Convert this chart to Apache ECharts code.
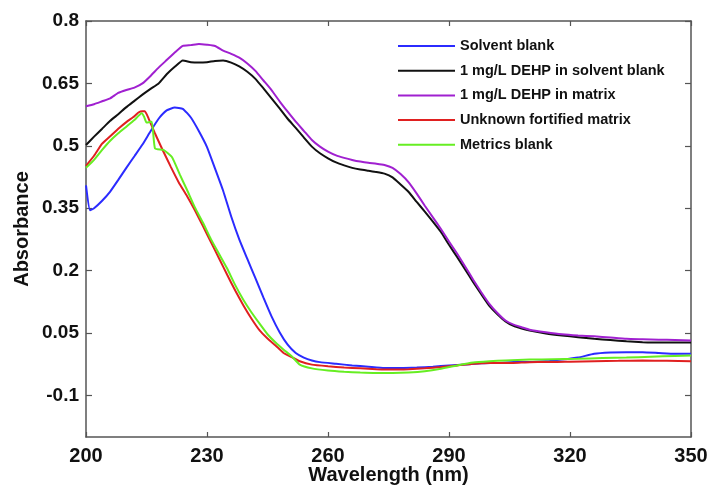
<!DOCTYPE html>
<html>
<head>
<meta charset="utf-8">
<script src="https://cdn.jsdelivr.net/npm/echarts@6/dist/echarts.min.js"></script>
<style>
  html, body { margin: 0; padding: 0; background: #fff; }
  #chart { width: 711px; height: 490px; }
</style>
</head>
<body>
<div id="chart"></div>
<script>
// UV absorbance spectra, [wavelength (nm), absorbance]
const solventBlank = [
  [200,0.405],[201,0.345],[202,0.350],[204,0.368],[206,0.390],[208,0.418],[210,0.447],[212,0.475],
  [214,0.503],[216,0.535],[218,0.565],[220,0.585],[222,0.592],[224,0.589],[226,0.568],[228,0.535],
  [230,0.497],[232,0.445],[234,0.392],[236,0.330],[238,0.275],[240,0.228],[242,0.182],[244,0.135],
  [246,0.090],[248,0.052],[250,0.022],[252,0.002],[254,-0.009],[256,-0.016],[258,-0.020],[262,-0.024],
  [266,-0.028],[270,-0.031],[274,-0.034],[278,-0.034],[282,-0.033],[286,-0.031],[290,-0.028],[294,-0.026],
  [298,-0.023],[302,-0.022],[306,-0.020],[310,-0.020],[314,-0.018],[318,-0.014],[322,-0.009],[326,0.000],
  [330,0.003],[334,0.004],[338,0.004],[342,0.002],[346,0.000],[350,0.000]
];
const dehpSolvent = [
  [200,0.502],[202,0.522],[204,0.541],[206,0.560],[208,0.576],[210,0.593],[212,0.608],[214,0.623],
  [216,0.637],[218,0.650],[220,0.672],[222,0.690],[224,0.705],[226,0.701],[228,0.700],[230,0.701],
  [232,0.704],[234,0.705],[236,0.700],[238,0.691],[240,0.678],[242,0.661],[244,0.638],[246,0.614],
  [248,0.590],[250,0.565],[252,0.543],[254,0.520],[256,0.498],[258,0.482],[260,0.470],[262,0.460],
  [264,0.453],[266,0.447],[268,0.443],[270,0.440],[272,0.437],[274,0.433],[276,0.424],[278,0.407],
  [280,0.389],[282,0.365],[284,0.342],[286,0.318],[288,0.293],[290,0.262],[292,0.233],[294,0.203],
  [296,0.172],[298,0.143],[300,0.115],[302,0.095],[304,0.078],[306,0.067],[308,0.061],[310,0.056],
  [314,0.049],[318,0.044],[322,0.040],[326,0.036],[330,0.033],[334,0.030],[338,0.028],[342,0.027],
  [346,0.027],[350,0.027]
];
const dehpMatrix = [
  [200,0.595],[202,0.600],[204,0.607],[206,0.614],[208,0.627],[210,0.634],[212,0.640],[214,0.650],
  [216,0.668],[218,0.688],[220,0.706],[222,0.724],[224,0.740],[226,0.742],[228,0.745],[230,0.743],
  [232,0.740],[234,0.729],[236,0.721],[238,0.712],[240,0.698],[242,0.680],[244,0.657],[246,0.634],
  [248,0.607],[250,0.582],[252,0.558],[254,0.536],[256,0.514],[258,0.498],[260,0.486],[262,0.477],
  [264,0.471],[266,0.466],[268,0.462],[270,0.459],[272,0.457],[274,0.454],[276,0.447],[278,0.432],
  [280,0.412],[282,0.385],[284,0.356],[286,0.328],[288,0.300],[290,0.270],[292,0.241],[294,0.210],
  [296,0.178],[298,0.148],[300,0.120],[302,0.098],[304,0.080],[306,0.070],[308,0.064],[310,0.058],
  [314,0.052],[318,0.047],[322,0.044],[326,0.042],[330,0.039],[334,0.036],[338,0.035],[342,0.034],
  [346,0.033],[350,0.032]
];
const unknownFortified = [
  [200,0.452],[202,0.476],[204,0.505],[206,0.523],[208,0.541],[210,0.557],[212,0.571],[213,0.580],
  [214,0.583],[214.6,0.583],[215.5,0.566],[217,0.532],[219,0.490],[221,0.450],[223,0.412],[225,0.380],
  [227,0.345],[229,0.307],[231,0.268],[233,0.229],[235,0.190],[237,0.152],[239,0.117],[241,0.085],
  [243,0.057],[245,0.037],[247,0.020],[249,0.002],[251,-0.008],[253,-0.018],[256,-0.026],[260,-0.030],
  [264,-0.033],[268,-0.035],[272,-0.037],[276,-0.038],[280,-0.037],[284,-0.035],[288,-0.032],[292,-0.028],
  [296,-0.024],[300,-0.022],[304,-0.022],[308,-0.021],[312,-0.020],[316,-0.020],[320,-0.019],[326,-0.018],
  [332,-0.017],[338,-0.016],[344,-0.017],[350,-0.018]
];
const metricsBlank = [
  [200,0.447],[202,0.466],[204,0.490],[206,0.512],[208,0.530],[210,0.546],[212,0.562],[213.8,0.578],
  [214.4,0.570],[215,0.556],[216.3,0.558],[217.1,0.494],[219.2,0.490],[221.3,0.473],[223.3,0.430],[225,0.395],
  [227,0.352],[229,0.315],[231,0.275],[233,0.240],[235,0.205],[237,0.165],[239,0.130],[241,0.100],
  [243,0.073],[245,0.047],[247,0.027],[249,0.010],[251,-0.006],[253,-0.026],[256,-0.035],[260,-0.040],
  [264,-0.043],[268,-0.045],[272,-0.046],[276,-0.046],[280,-0.045],[284,-0.042],[288,-0.036],[292,-0.028],
  [296,-0.021],[300,-0.018],[304,-0.016],[310,-0.014],[316,-0.013],[322,-0.012],[328,-0.010],[334,-0.009],
  [340,-0.007],[346,-0.005],[350,-0.004]
];

const seriesNames = [
  'Solvent blank',
  '1 mg/L DEHP in solvent blank',
  '1 mg/L DEHP in matrix',
  'Unknown fortified matrix',
  'Metrics blank'
];
const seriesColors = ['#2b2bff', '#111111', '#a020d0', '#e02020', '#66ee22'];
const seriesData = [solventBlank, dehpSolvent, dehpMatrix, unknownFortified, metricsBlank];

const xTicks = [200, 230, 260, 290, 320, 350];
const yTicks = [-0.1, 0.05, 0.2, 0.35, 0.5, 0.65, 0.8];

const frameColor = '#555';
const font = 'Liberation Sans, Arial, sans-serif';

function frameAxis(extra) {
  return Object.assign({
    type: 'value',
    axisLine: { show: true, onZero: false, lineStyle: { color: frameColor, width: 1.5 } },
    splitLine: { show: false }
  }, extra);
}

const chart = echarts.init(document.getElementById('chart'), null, { renderer: 'canvas' });
chart.setOption({
  animation: false,
  backgroundColor: '#fff',
  grid: { left: 86, right: 20, top: 21, bottom: 53, containLabel: false, outerBoundsMode: 'none' },
  legend: {
    orient: 'vertical',
    left: 393,
    top: 33,
    icon: 'rect',
    itemWidth: 57,
    itemHeight: 2,
    itemGap: 8.7,
    textStyle: { fontFamily: font, fontWeight: 'bold', fontSize: 14.5, lineHeight: 16, color: '#111' },
    data: seriesNames
  },
  xAxis: [
    frameAxis({
      min: 200, max: 350,
      name: 'Wavelength (nm)',
      nameLocation: 'middle',
      nameGap: 28,
      nameMoveOverlap: false,
      nameTextStyle: { fontFamily: font, fontWeight: 'bold', fontSize: 20, color: '#111', verticalAlign: 'top' },
      axisTick: { show: true, inside: true, length: 5, customValues: xTicks, lineStyle: { color: frameColor, width: 1.2 } },
      axisLabel: { customValues: xTicks, margin: 9, fontFamily: font, fontWeight: 'bold', fontSize: 20, color: '#111' }
    }),
    frameAxis({
      min: 200, max: 350, position: 'top',
      axisTick: { show: true, inside: true, length: 5, customValues: xTicks, lineStyle: { color: frameColor, width: 1.2 } },
      axisLabel: { show: false }
    })
  ],
  yAxis: [
    frameAxis({
      min: -0.2, max: 0.8,
      name: 'Absorbance',
      nameLocation: 'middle',
      nameGap: 54,
      nameRotate: 90,
      nameMoveOverlap: false,
      nameTextStyle: { fontFamily: font, fontWeight: 'bold', fontSize: 20, color: '#111' },
      axisTick: { show: true, inside: true, length: 6, customValues: yTicks, lineStyle: { color: frameColor, width: 1.2 } },
      axisLabel: { customValues: yTicks, margin: 7, fontFamily: font, fontWeight: 'bold', fontSize: 19, color: '#111',
        formatter: v => String(Math.round(v * 100) / 100) }
    }),
    frameAxis({
      min: -0.2, max: 0.8, position: 'right',
      axisTick: { show: true, inside: true, length: 6, customValues: yTicks, lineStyle: { color: frameColor, width: 1.2 } },
      axisLabel: { show: false }
    })
  ],
  series: seriesNames.map((name, i) => ({
    name: name,
    type: 'line',
    xAxisIndex: 0,
    yAxisIndex: 0,
    data: seriesData[i],
    showSymbol: false,
    smooth: 0.15,
    lineStyle: { color: seriesColors[i], width: 2 },
    itemStyle: { color: seriesColors[i] }
  }))
});
</script>
</body>
</html>
